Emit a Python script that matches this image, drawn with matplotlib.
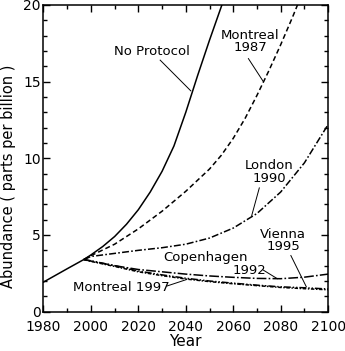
import numpy as np
import matplotlib
matplotlib.use("Agg")
import matplotlib.pyplot as plt
from matplotlib.ticker import MultipleLocator

plt.rcParams["font.family"] = ["DejaVu Sans"]
plt.rcParams["lines.scale_dashes"] = False

# data (year, ppb)
yr_noprot = [1980, 1990, 1997, 2000, 2005, 2010, 2015, 2020, 2025, 2030, 2035, 2040, 2045, 2050, 2055, 2058]
v_noprot = [1.93, 2.8, 3.4, 3.7, 4.25, 4.9, 5.7, 6.65, 7.8, 9.15, 10.8, 13.0, 15.4, 17.7, 19.9, 21.2]

yr_mont87 = [1997, 2000, 2010, 2020, 2030, 2040, 2050, 2055, 2060, 2065, 2070, 2075, 2080, 2085, 2090]
v_mont87 = [3.4, 3.65, 4.4, 5.4, 6.55, 7.85, 9.3, 10.2, 11.3, 12.6, 14.1, 15.7, 17.4, 19.2, 21.1]

yr_rest = [1997, 2000, 2010, 2020, 2030, 2040, 2050, 2060, 2070, 2080, 2090, 2100]
v_london = [3.4, 3.6, 3.8, 4.0, 4.17, 4.4, 4.8, 5.45, 6.4, 7.8, 9.7, 12.2]
v_copen = [3.4, 3.3, 3.0, 2.75, 2.6, 2.45, 2.33, 2.24, 2.17, 2.15, 2.25, 2.45]
v_vienna = [3.4, 3.32, 3.0, 2.65, 2.4, 2.18, 2.0, 1.86, 1.73, 1.62, 1.56, 1.48]
v_mont97 = [3.4, 3.28, 2.95, 2.6, 2.35, 2.13, 1.96, 1.82, 1.7, 1.58, 1.5, 1.43]

fig = plt.figure(figsize=(3.45, 3.51), dpi=100)
ax = fig.add_axes([0.126, 0.112, 0.825, 0.874])

lw = 1.1
ax.plot(yr_noprot, v_noprot, color="black", lw=lw)
ax.plot(yr_mont87, v_mont87, color="black", lw=lw, ls=(0, (3.6, 2.2)))
ax.plot(yr_rest, v_london, color="black", lw=lw, ls=(0, (5, 1.6, 1.2, 1.6)))
ax.plot(yr_rest, v_copen, color="black", lw=lw, ls=(0, (7, 1.6, 1.2, 1.6)))
ax.plot(yr_rest, v_vienna, color="black", lw=lw, ls=(0, (5, 1.4, 1, 1.4, 1, 1.4)))
ax.plot(yr_rest, v_mont97, color="black", lw=lw, ls=(0, (2.5, 1.2, 1, 1.2)))

ax.set_xlim(1980, 2100)
ax.set_ylim(0, 20)
ax.xaxis.set_major_locator(MultipleLocator(20))
ax.xaxis.set_minor_locator(MultipleLocator(10))
ax.yaxis.set_major_locator(MultipleLocator(5))
ax.yaxis.set_minor_locator(MultipleLocator(1))
ax.tick_params(which="both", direction="in", top=True, right=True, width=1, labelsize=10)
ax.tick_params(which="major", length=5)
ax.tick_params(which="minor", length=3)
ax.tick_params(axis="x", pad=6)
ax.tick_params(axis="y", pad=2)
for s in ax.spines.values():
    s.set_linewidth(1.1)

ax.set_xlabel("Year", fontsize=11, labelpad=0)
ax.set_ylabel("Abundance ( parts per billion )", fontsize=10.5)
ax.yaxis.set_label_coords(-0.095, 0.44)

# labels with pointer lines
fs = 9.5
ax.text(2025.6, 16.95, "No Protocol", fontsize=fs, ha="center", va="center")
ax.plot([2029.2, 2042.1], [16.4, 14.4], color="black", lw=0.7)

ax.text(2067.2, 17.6, "Montreal\n1987", fontsize=fs, ha="center", va="center", linespacing=0.95)
ax.plot([2066.4, 2072.7], [16.5, 15.0], color="black", lw=0.7)

ax.text(2075.3, 9.1, "London\n1990", fontsize=fs, ha="center", va="center", linespacing=0.95)
ax.plot([2071, 2067.8], [8.07, 6.27], color="black", lw=0.7)

ax.text(2081, 4.64, "Vienna\n1995", fontsize=fs, ha="center", va="center", linespacing=0.95)
ax.plot([2084.3, 2090.8], [3.66, 1.63], color="black", lw=0.7)

ax.text(2048.4, 3.51, "Copenhagen", fontsize=fs, ha="center", va="center")
ax.text(2066.8, 2.71, "1992", fontsize=fs, ha="center", va="center")
ax.plot([2072.7, 2078.6], [2.71, 2.15], color="black", lw=0.7)

ax.text(2013, 1.6, "Montreal 1997", fontsize=fs, ha="center", va="center")
ax.plot([2032, 2040.4], [1.67, 2.1], color="black", lw=0.7)

fig.savefig("out.png", dpi=100)
